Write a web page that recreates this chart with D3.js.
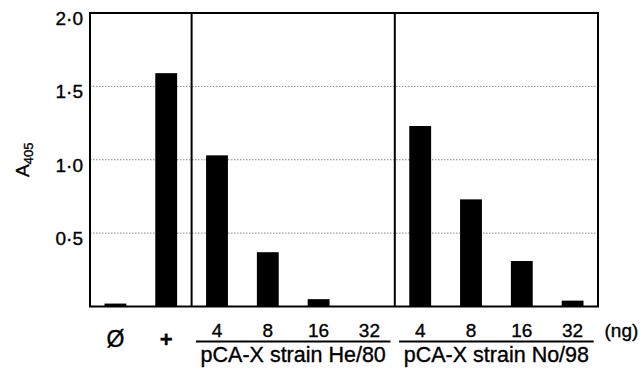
<!DOCTYPE html>
<html>
<head>
<meta charset="utf-8">
<script src="https://cdn.jsdelivr.net/npm/d3@7"></script>
<style>
  body { margin: 0; background: #fff; }
  svg { display: block; font-family: "Liberation Sans", Arial, Helvetica, sans-serif; }
  svg text { stroke: #000; stroke-width: 0.35px; }
</style>
</head>
<body>
<svg id="chart" width="644" height="374"></svg>
<script>
// categories (unique keys) and the labels printed under them
const categories = ["none", "pos", "He4", "He8", "He16", "He32", "No4", "No8", "No16", "No32"];
const tickLabels = ["Ø", "+", "4", "8", "16", "32", "4", "8", "16", "32"];
// absorbance values
const values = [0.02, 1.59, 1.03, 0.37, 0.05, 0.0, 1.23, 0.73, 0.31, 0.04];
// y ticks
const yTicks = [0.5, 1.0, 1.5, 2.0];
const gridTicks = [0.5, 1.0, 1.5];
// the two plasmid groups
const groupLabels = ["pCA-X strain He/80", "pCA-X strain No/98"];
const groupFirst = ["He4", "No4"];
const groupLast = ["He32", "No32"];

const svgWidth = 644, svgHeight = 374;
const margin = { left: 90, right: 46, top: 13, bottom: 67.5 };
const width = svgWidth - margin.left - margin.right;
const height = svgHeight - margin.top - margin.bottom;

const svg = d3.select("#chart");
const g = svg.append("g").attr("transform", `translate(${margin.left},${margin.top})`);

// scales
const x = d3.scaleBand()
    .domain(categories)
    .range([0, width])
    .paddingInner(0.57)
    .paddingOuter(0.285);

const y = d3.scaleLinear()
    .domain([0, 2])
    .range([height, 0]);

// dotted gridlines
g.selectAll(".grid")
    .data(gridTicks)
    .join("line")
    .attr("class", "grid")
    .attr("x1", 0)
    .attr("x2", width)
    .attr("y1", d => y(d))
    .attr("y2", d => y(d))
    .attr("stroke", "#8a8a8a")
    .attr("stroke-width", 1)
    .attr("stroke-dasharray", "1.5,1.5");

// bars
g.selectAll(".bar")
    .data(categories)
    .join("rect")
    .attr("class", "bar")
    .attr("x", d => x(d))
    .attr("width", x.bandwidth())
    .attr("y", (d, i) => y(values[i]))
    .attr("height", (d, i) => height - y(values[i]))
    .attr("fill", "#000");

// frame
g.append("rect")
    .attr("x", 0)
    .attr("y", 0)
    .attr("width", width)
    .attr("height", height)
    .attr("fill", "none")
    .attr("stroke", "#000")
    .attr("stroke-width", 2);

// vertical dividers between the groups
const step = x.step();
const dividers = ["He4", "No4"].map(c => x(c) - step * 0.285);
g.selectAll(".divider")
    .data(dividers)
    .join("line")
    .attr("class", "divider")
    .attr("x1", d => d)
    .attr("x2", d => d)
    .attr("y1", 0)
    .attr("y2", height)
    .attr("stroke", "#000")
    .attr("stroke-width", 2);

// y axis (labels hang just below the tick)
const yAxis = d3.axisLeft(y)
    .tickValues(yTicks)
    .tickSize(0)
    .tickPadding(7)
    .tickFormat(d => d3.format(".1f")(d).replace(".", "·"));

g.append("g")
    .attr("class", "y-axis")
    .call(yAxis)
    .call(a => a.select(".domain").remove())
    .call(a => a.selectAll("text")
        .attr("dy", null)
        .attr("y", 11.5)
        .attr("fill", "#000")
        .attr("font-size", 19)
        .attr("font-family", null));

// x axis labels
const xAxis = d3.axisBottom(x)
    .tickSize(0)
    .tickFormat((d, i) => tickLabels[i]);

g.append("g")
    .attr("class", "x-axis")
    .attr("transform", `translate(0,${height})`)
    .call(xAxis)
    .call(a => a.select(".domain").remove())
    .call(a => a.selectAll("text")
        .attr("dy", null)
        .attr("y", (d, i) => i < 2 ? 40.5 : 30.5)
        .attr("fill", "#000")
        .attr("font-family", null)
        .attr("font-weight", (d, i) => i === 1 ? "bold" : null)
        .attr("font-size", (d, i) => i === 0 ? 23 : i === 1 ? 22 : 19));

// unit label
g.append("text")
    .attr("x", x("No32") + x.bandwidth() + 21)
    .attr("y", height + 30.5)
    .attr("font-size", 19)
    .text("(ng)");

// group underlines and names
const groupLines = groupFirst.map((f, i) => ({
    x1: x(f) - step * 0.2,
    x2: x(groupLast[i]) + x.bandwidth() + step * 0.2,
    label: groupLabels[i]
}));

g.selectAll(".group-line")
    .data(groupLines)
    .join("line")
    .attr("class", "group-line")
    .attr("x1", d => d.x1)
    .attr("x2", d => d.x2)
    .attr("y1", height + 35)
    .attr("y2", height + 35)
    .attr("stroke", "#000")
    .attr("stroke-width", 2);

g.selectAll(".group-label")
    .data(groupLines)
    .join("text")
    .attr("class", "group-label")
    .attr("x", d => (d.x1 + d.x2) / 2)
    .attr("y", height + 55.5)
    .attr("text-anchor", "middle")
    .attr("font-size", 21.5)
    .text(d => d.label);

// y axis title A405
const yTitle = svg.append("text")
    .attr("transform", `translate(29,${margin.top + y(1.0)}) rotate(-90)`)
    .attr("text-anchor", "middle")
    .attr("font-size", 19);
yTitle.append("tspan").text("A");
yTitle.append("tspan")
    .attr("font-size", 13)
    .attr("dy", 4)
    .text("405");
</script>
</body>
</html>
